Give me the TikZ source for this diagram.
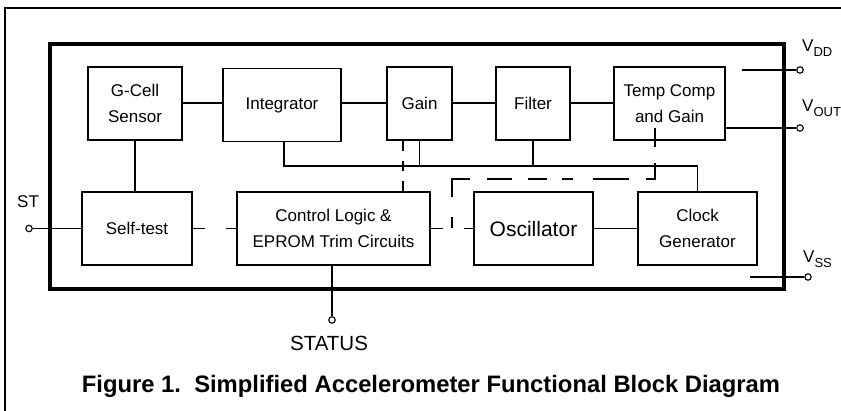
\documentclass[tikz,border=0pt]{standalone}
\usepackage{fontspec}
\setmainfont{Liberation Sans}
\usetikzlibrary{calc}
\newcommand{\sub}[1]{\raisebox{-0.45ex}{\fontsize{13}{13}\selectfont #1}}
\begin{document}
\begin{tikzpicture}[x=1pt,y=-1pt,
  blk/.style={draw,line width=1.7pt,inner sep=0pt,align=center,font=\fontsize{17}{26}\selectfont},
  wire/.style={line width=1.5pt},
  dwire/.style={line width=1.5pt,dash pattern=on 10pt off 10pt},
  pin/.style={circle,draw,fill=white,line width=1.1pt,inner sep=0pt,minimum size=6.5pt},
  lbl/.style={font=\fontsize{17}{20}\selectfont,inner sep=0pt}]
\useasboundingbox (0,0) rectangle (841,411);
% outer frame (only left and top visible)
\draw[line width=1.6pt] (5,411) -- (5,8) -- (841,8);
% chip box
\node[draw,line width=3.2pt,minimum width=734pt,minimum height=245pt,inner sep=0pt] (chip) at (417,166.5) {};
% blocks
\node[blk,minimum width=94pt,minimum height=73pt] (gcell) at (135,103.5) {G-Cell\\Sensor};
\node[blk,minimum width=118pt,minimum height=73pt] (integ) at (282,105) {Integrator};
\node[blk,minimum width=65pt,minimum height=73pt] (gain) at (419.5,103.5) {Gain};
\node[blk,minimum width=74pt,minimum height=73pt] (filter) at (533,103.5) {Filter};
\node[blk,minimum width=111pt,minimum height=73pt] (tc) at (669.5,103.5) {Temp Comp\\and Gain};
\node[blk,minimum width=110pt,minimum height=73pt] (st) at (137,228.5) {Self-test};
\node[blk,minimum width=193pt,minimum height=73pt] (ctrl) at (333.5,228.5) {Control Logic \&\\EPROM Trim Circuits};
\node[blk,minimum width=119pt,minimum height=73pt,font=\fontsize{21}{26}\selectfont] (osc) at (533.5,228.5) {Oscillator};
\node[blk,minimum width=119pt,minimum height=73pt] (clk) at (697.5,228.5) {Clock\\Generator};
% signal chain
\draw[wire] (gcell.east |- 0,103) -- (integ.west |- 0,103);
\draw[wire] (integ.east |- 0,103) -- (gain.west |- 0,103);
\draw[wire] (gain.east |- 0,103) -- (filter.west |- 0,103);
\draw[wire] (filter.east |- 0,103) -- (tc.west |- 0,103);
\draw[wire] (gcell.south) -- (gcell.south |- st.north);
% clock bus
\coordinate (busl) at (284,166);
\draw[wire] (integ.south -| busl) -- (busl) -- (busl -| clk.north) -- (clk.north);
\draw[wire] (gain.south) -- (gain.south |- busl);
\draw[wire] (filter.south) -- (filter.south |- busl);
\draw[wire] (osc.east) -- (clk.west);
% dashed links
\draw[wire,dash pattern=on 12pt off 21pt] (st.east) -- (ctrl.west);
\coordinate (gd) at (403,141);
\draw[dwire] (gd) -- (gd |- ctrl.north);
\draw[wire,dash pattern=on 12pt off 21pt] (ctrl.east) -- (osc.west);
\coordinate (dj) at (452,228.5);
\coordinate (dc) at (452,179);
\coordinate (dr) at (655,179);
\draw[wire,dash pattern=on 11pt off 20pt on 36pt off 17pt on 25pt off 16pt on 19pt off 15pt]
  (dj) -- (dc) -- (dr) -- (dr |- 0,124);
% pins
\node[pin] (stpin) at (29,228.5) {};
\draw[wire] (stpin) -- (st.west);
\node[lbl,anchor=base west] (stl) at (17,208) {ST};
\node[pin] (statpin) at (332,320) {};
\draw[wire] (ctrl.south -| statpin) -- (statpin);
\node[lbl,font=\fontsize{20.5}{22}\selectfont,anchor=base] (statl) at (329,351) {STATUS};
\coordinate (vddin) at (742,70);
\node[pin] (vdd) at (800,70) {};
\draw[wire] (vddin) -- (vdd);
\node[lbl,anchor=base west] (vddl) at (802,52) {V\sub{DD}};
\node[pin] (vout) at (800,128) {};
\draw[wire] (tc.east |- vout) -- (vout);
\node[lbl,anchor=base west] (voutl) at (802,112) {V\sub{OUT}};
\coordinate (vssin) at (750,277);
\node[pin] (vss) at (808,277) {};
\draw[wire] (vssin) -- (vss);
\node[lbl,anchor=base west] (vssl) at (803,263) {V\sub{SS}};
% caption
\node[inner sep=0pt,anchor=base,font=\fontsize{23.8}{26}\selectfont\bfseries] (cap) at (431,393) {Figure 1.\ \ Simplified Accelerometer Functional Block Diagram};
\end{tikzpicture}
\end{document}
